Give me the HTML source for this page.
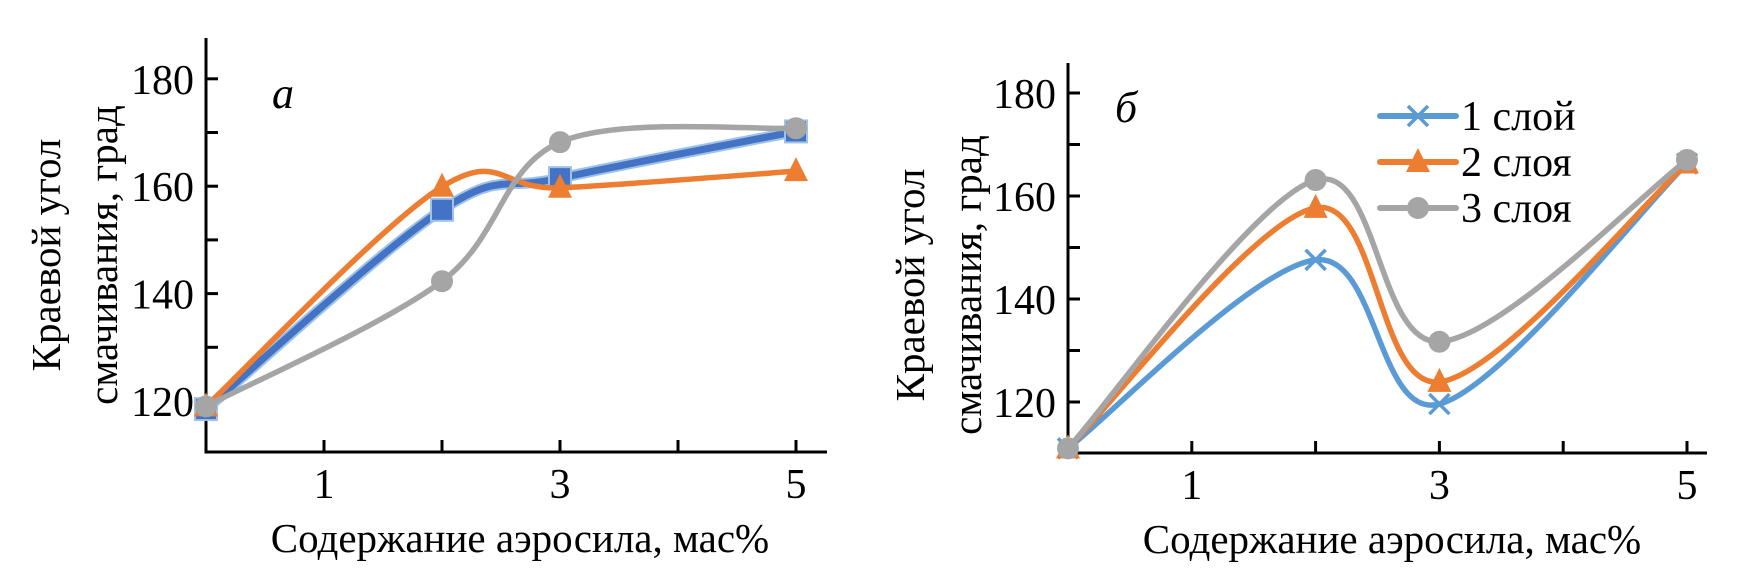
<!DOCTYPE html>
<html><head><meta charset="utf-8">
<style>
html,body{margin:0;padding:0;background:#fff;}
svg{display:block;font-family:"Liberation Serif","DejaVu Serif",serif;}
</style></head>
<body>
<svg id="chart" width="1750" height="579" viewBox="0 0 1750 579" xmlns="http://www.w3.org/2000/svg"></svg>
<script>
// ----- data -----
const xCats = [0, 2, 3, 5];
const xTickLabels = ["1", "3", "5"];
const xTickLabelValues = [1, 3, 5];
const yTickLabels = ["120", "140", "160", "180"];
const yTickValues = [120, 140, 160, 180];
const yMinorTicks = [130, 150, 170];
const leftSeries1 = [118.5, 155.6, 161.5, 170.2];
const leftSeries2 = [119, 159.9, 159.7, 162.8];
const leftSeries3 = [119, 142.3, 168.2, 170.8];
const rightSeries1 = [111, 147.6, 119.6, 166.3];
const rightSeries2 = [111, 157.7, 123.9, 166.3];
const rightSeries3 = [111, 163.1, 131.7, 167];
const legendLabels = ["1 слой", "2 слоя", "3 слоя"];

const NS = "http://www.w3.org/2000/svg";
const svg = document.getElementById("chart");
function mk(tag, attrs, parent){
  const e = document.createElementNS(NS, tag);
  for (const k in attrs) e.setAttribute(k, attrs[k]);
  (parent||svg).appendChild(e);
  return e;
}
function smooth(pts){
  let d = "M" + pts[0][0] + "," + pts[0][1];
  for (let i = 0; i < pts.length - 1; i++){
    const p0 = pts[Math.max(0, i-1)], p1 = pts[i], p2 = pts[i+1], p3 = pts[Math.min(pts.length-1, i+2)];
    const c1x = p1[0] + (p2[0]-p0[0])/6, c1y = p1[1] + (p2[1]-p0[1])/6;
    const c2x = p2[0] - (p3[0]-p1[0])/6, c2y = p2[1] - (p3[1]-p1[1])/6;
    d += " C" + c1x + "," + c1y + " " + c2x + "," + c2y + " " + p2[0] + "," + p2[1];
  }
  return d;
}
function marker(kind, x, y, color, g){
  let m;
  if (kind === "square"){
    m = mk("rect", {x:x-11, y:y-11, width:22, height:22, fill:color, stroke:"#9dc3e6", "stroke-width":2}, g);
  } else if (kind === "tri"){
    m = mk("polygon", {points:(x)+","+(y-14)+" "+(x+12)+","+(y+10)+" "+(x-12)+","+(y+10), fill:color}, g);
  } else if (kind === "circle"){
    m = mk("circle", {cx:x, cy:y, r:11, fill:color}, g);
  } else {
    m = mk("path", {d:"M"+(x-10)+","+(y-10)+"L"+(x+10)+","+(y+10)+"M"+(x+10)+","+(y-10)+"L"+(x-10)+","+(y+10), stroke:color, "stroke-width":3.5, fill:"none"}, g);
  }
  
  
}

function panel(cfg){
  const g = mk("g", {});
  
  
  const X = v => cfg.x0 + v * cfg.xu;
  const Y = v => cfg.y120 - (v - 120) * cfg.yu;
  const ya = mk("line", {x1:cfg.x0, y1:cfg.top, x2:cfg.x0, y2:cfg.axisY, stroke:"#000", "stroke-width":3}, g);
  
  
  const xa = mk("line", {x1:cfg.x0-1.5, y1:cfg.axisY, x2:cfg.right, y2:cfg.axisY, stroke:"#000", "stroke-width":3}, g);
  
  
  yTickValues.concat(yMinorTicks).forEach(v => {
    const t = mk("line", {x1:cfg.x0, y1:Y(v), x2:cfg.x0+12, y2:Y(v), stroke:"#000", "stroke-width":3}, g);
    
    
  });
  yTickValues.forEach((v, i) => {
    const t = mk("text", {x:cfg.x0-12, y:Y(v)+15, "font-size":42, "text-anchor":"end", fill:"#000"}, g);
    t.textContent = yTickLabels[i];
    
    
  });
  for (let v = 1; v <= 5; v++){
    const t = mk("line", {x1:X(v), y1:cfg.axisY, x2:X(v), y2:cfg.axisY-12, stroke:"#000", "stroke-width":3}, g);
    
    
  }
  xTickLabelValues.forEach((v, i) => {
    const t = mk("text", {x:X(v), y:cfg.axisY+46, "font-size":42, "text-anchor":"middle", fill:"#000"}, g);
    t.textContent = xTickLabels[i];
    
    
  });
  const xt = mk("text", {x:cfg.xTitleX, y:cfg.axisY+100, "font-size":41, "text-anchor":"middle", fill:"#000"}, g);
  xt.textContent = "Содержание аэросила, мас%";
  
  
  const yt = mk("text", {transform:"translate("+cfg.yTitleX+","+cfg.yTitleY+") rotate(-90)", "font-size":41, "text-anchor":"middle", fill:"#000"}, g);
  
  
  const l1 = mk("tspan", {x:0, y:0}, yt); l1.textContent = "Краевой угол";
  const l2 = mk("tspan", {x:0, y:57}, yt); l2.textContent = "смачивания, град";
  const pl = mk("text", {x:cfg.letterX, y:cfg.letterY, "font-size":44, "font-style":"italic", fill:"#000"}, g);
  pl.textContent = cfg.letter;
  
  
  cfg.series.forEach(s => {
    const pts = xCats.map((c, i) => [X(c), Y(s.data[i])]);
    const sg = mk("g", {}, g);
    
    
    if (s.halo){
      mk("path", {d:smooth(pts), stroke:"#9dc3e6", "stroke-width":11, fill:"none", "stroke-linecap":"round"}, sg);
    }
    const p = mk("path", {d:smooth(pts), stroke:s.color, "stroke-width":s.width, fill:"none", "stroke-linecap":"round"}, sg);
    
    
    pts.forEach(pt => marker(s.marker, pt[0], pt[1], s.color, sg));
  });
  return g;
}

panel({name:"panel-a", x0:206, xu:118, y120:401, yu:5.37, top:38, axisY:452, right:827,
  xTitleX:520, yTitleX:60, yTitleY:255, letter:"а", letterX:272, letterY:108,
  series:[
    {name:"series-1-layer", data:leftSeries1, color:"#4472c4", width:7, marker:"square", halo:true},
    {name:"series-2-layers", data:leftSeries2, color:"#ed7d31", width:5.5, marker:"tri"},
    {name:"series-3-layers", data:leftSeries3, color:"#a5a5a5", width:5.5, marker:"circle"}
  ]});
panel({name:"panel-b", x0:1068, xu:123.8, y120:402, yu:5.15, top:63, axisY:453, right:1707,
  xTitleX:1392, yTitleX:924, yTitleY:285, letter:"б", letterX:1115, letterY:122,
  series:[
    {name:"series-1-layer", data:rightSeries1, color:"#5b9bd5", width:5.5, marker:"x"},
    {name:"series-2-layers", data:rightSeries2, color:"#ed7d31", width:5.5, marker:"tri"},
    {name:"series-3-layers", data:rightSeries3, color:"#a5a5a5", width:5.5, marker:"circle"}
  ]});

const legendColors = ["#5b9bd5", "#ed7d31", "#a5a5a5"];
const legendMarkers = ["x", "tri", "circle"];
const lg = mk("g", {});


legendLabels.forEach((lab, i) => {
  const y = 116 + i * 46;
  const eg = mk("g", {}, lg);
  
  
  mk("line", {x1:1380, y1:y, x2:1456, y2:y, stroke:legendColors[i], "stroke-width":6, "stroke-linecap":"round"}, eg);
  marker(legendMarkers[i], 1418, y, legendColors[i], eg);
  const t = mk("text", {x:1461, y:y+14, "font-size":42, fill:"#000"}, eg);
  t.textContent = lab;
});
</script>
</body></html>
